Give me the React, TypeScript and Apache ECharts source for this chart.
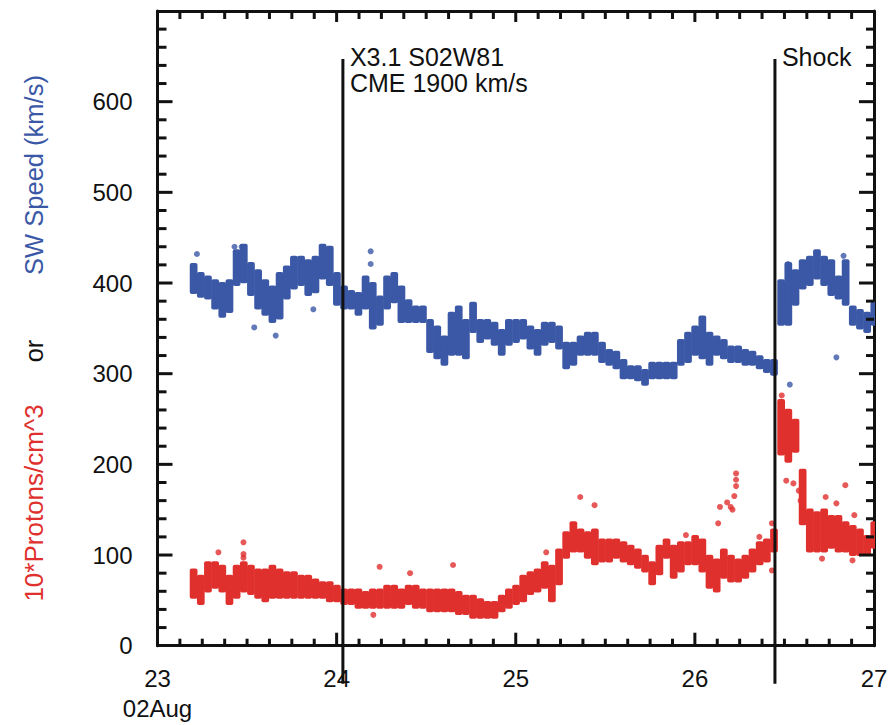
import React, { useEffect, useRef } from "react";
import * as echarts from "echarts";

// Sampling grid of the plotted time series (day of August 2002)
const DAY_START = 23.2;
const DAY_STEP = 0.04;

// Solar-wind speed (km/s): lower / upper edge of the scatter cloud at each sample
const speedLo = [
  390, 386, 384, 373, 364, 369, 399, 402, 388, 373,
  366, 358, 362, 384, 395, 399, 388, 391, 406, 399,
  377, 373, 373, 366, 373, 351, 355, 373, 380, 358,
  358, 358, 358, 325, 318, 311, 322, 322, 318, 347,
  336, 340, 333, 322, 333, 336, 340, 329, 322, 333,
  336, 329, 307, 311, 322, 322, 322, 314, 311, 307,
  296, 296, 294, 289, 296, 296, 296, 296, 311, 314,
  322, 318, 311, 322, 318, 314, 314, 311, 311, 307,
  303, 300, 355, 355, 377, 395, 399, 406, 399, 388,
  384, 377, 355, 351, 347, 355,
];
const speedHi = [
  420, 410, 406, 402, 399, 402, 435, 441, 421, 413,
  402, 395, 410, 417, 428, 428, 424, 428, 441, 439,
  410, 395, 390, 388, 406, 399, 384, 406, 410, 395,
  380, 373, 373, 358, 351, 340, 366, 373, 358, 377,
  358, 358, 355, 347, 358, 358, 358, 351, 347, 355,
  355, 351, 333, 333, 340, 344, 344, 333, 325, 323,
  314, 307, 307, 303, 311, 311, 311, 311, 336, 344,
  351, 362, 344, 340, 336, 329, 329, 325, 323, 318,
  314, 314, 402, 421, 413, 424, 428, 435, 428, 424,
  406, 424, 373, 369, 366, 377,
];

// 10 * proton density (cm^-3): lower / upper edge of the scatter cloud
const densLo = [
  54, 47, 61, 65, 61, 47, 54, 61, 58, 54,
  50, 54, 54, 54, 54, 54, 54, 54, 54, 50,
  50, 47, 47, 43, 43, 43, 43, 43, 43, 43,
  47, 43, 43, 39, 39, 39, 39, 36, 36, 32,
  32, 32, 32, 39, 43, 47, 50, 58, 61, 65,
  50, 69, 98, 105, 105, 98, 91, 94, 94, 98,
  94, 91, 87, 83, 69, 80, 98, 76, 83, 91,
  91, 83, 65, 61, 76, 72, 72, 76, 83, 91,
  94, 105, 212, 204, 215, 135, 105, 105, 105, 109,
  105, 105, 101, 101, 101, 109,
];
const densHi = [
  83, 76, 91, 91, 87, 76, 87, 91, 87, 83,
  83, 87, 83, 80, 80, 76, 76, 72, 69, 69,
  65, 61, 61, 61, 58, 61, 61, 65, 65, 61,
  65, 65, 61, 61, 61, 61, 61, 58, 54, 54,
  50, 47, 47, 54, 61, 65, 76, 80, 83, 91,
  87, 105, 124, 135, 127, 124, 127, 116, 116, 116,
  113, 109, 105, 98, 91, 109, 116, 109, 113, 113,
  120, 116, 98, 94, 105, 98, 94, 98, 105, 113,
  116, 127, 270, 259, 248, 193, 149, 146, 149, 142,
  142, 135, 131, 127, 120, 135,
];

// Isolated points outside the main clouds: [day, value]
const speedOutliers = [
  [23.22, 432], [23.43, 440], [23.47, 440], [23.54, 351], [23.66, 342],
  [23.87, 371], [24.19, 435], [24.19, 421], [26.52, 421], [26.53, 288],
  [26.79, 318], [26.83, 430],
];
const densOutliers = [
  [23.34, 103], [23.48, 114], [23.48, 101], [23.48, 97], [24.24, 87],
  [24.205, 34], [24.41, 80], [24.65, 89], [25.17, 103], [25.36, 164],
  [25.44, 155], [25.95, 122], [26.14, 153], [26.18, 158], [26.2, 153],
  [26.23, 190], [26.23, 183], [26.23, 176], [26.22, 165], [26.21, 150],
  [26.13, 135], [26.36, 120], [26.43, 135], [26.43, 83], [26.485, 276],
  [26.51, 182], [26.55, 179], [26.58, 171], [26.59, 160], [26.84, 177],
  [26.73, 164], [26.79, 157], [26.89, 144], [26.71, 96], [26.88, 94],
];

// Event markers
const eventDays = [24.035, 26.447];
const eventLabels = [["X3.1 S02W81", "CME 1900 km/s"], ["Shock"]];

// Axis ranges and tick spacing
const X_MIN = 23;
const X_MAX = 27;
const X_MAJOR = 1;
const X_MINOR_PER_MAJOR = 8;
const Y_MIN = 0;
const Y_MAX = 700;
const Y_MAJOR = 100;
const Y_MINOR_PER_MAJOR = 5;

const BLUE = "#3a58a6";
const RED = "#e0302e";
const INK = "#111111";
const FONT = "Liberation Sans";

function bandData(lo: number[], hi: number[]) {
  return lo.map((v, i) => [DAY_START + i * DAY_STEP, v, hi[i]]);
}

function bandRenderer(color: string) {
  return (params: any, api: any) => {
    const t = api.value(0);
    const lo = api.value(1);
    const hi = api.value(2);
    const a = api.coord([t - DAY_STEP / 2, hi]);
    const b = api.coord([t + DAY_STEP / 2, lo]);
    return {
      type: "rect",
      shape: {
        x: a[0],
        y: a[1] - 2,
        width: b[0] - a[0] + 0.6,
        height: b[1] - a[1] + 4,
        r: 2,
      },
      style: { fill: color },
    };
  };
}

// Tick positions along each axis: [value, 1 if major else 0]
function buildTicks(min: number, max: number, major: number, perMajor: number) {
  const out: number[][] = [];
  const n = Math.round(((max - min) / major) * perMajor);
  for (let k = 1; k < n; k++) {
    out.push([min + (k * major) / perMajor, k % perMajor === 0 ? 1 : 0]);
  }
  return out;
}
const xTicks = buildTicks(X_MIN, X_MAX, X_MAJOR, X_MINOR_PER_MAJOR);
const yTicks = buildTicks(Y_MIN, Y_MAX, Y_MAJOR, Y_MINOR_PER_MAJOR);

function tickLines(api: any) {
  const out: any[] = [];
  const p0 = api.coord([X_MIN, Y_MIN]);
  const p1 = api.coord([X_MAX, Y_MAX]);
  for (let i = 0; i < xTicks.length; i++) {
    const v = xTicks[i][0];
    const major = xTicks[i][1] === 1;
    const x = api.coord([v, Y_MIN])[0];
    const lb = major ? 13 : 7;
    const lt = major ? 11 : 8;
    out.push({
      type: "line",
      shape: { x1: x, y1: p0[1], x2: x, y2: p0[1] - lb },
      style: { stroke: INK, lineWidth: 3 },
    });
    out.push({
      type: "line",
      shape: { x1: x, y1: p1[1], x2: x, y2: p1[1] + lt },
      style: { stroke: INK, lineWidth: 3 },
    });
  }
  for (let i = 0; i < yTicks.length; i++) {
    const v = yTicks[i][0];
    const major = yTicks[i][1] === 1;
    const y = api.coord([X_MIN, v])[1];
    const ll = major ? 15 : 9;
    const lr = major ? 15 : 8;
    out.push({
      type: "line",
      shape: { x1: p0[0], y1: y, x2: p0[0] + ll, y2: y },
      style: { stroke: INK, lineWidth: 3 },
    });
    out.push({
      type: "line",
      shape: { x1: p1[0], y1: y, x2: p1[0] - lr, y2: y },
      style: { stroke: INK, lineWidth: 3 },
    });
  }
  return out;
}

const titleGraphics = [
  {
    type: "text",
    x: 34,
    y: 175,
    rotation: Math.PI / 2,
    style: {
      text: "SW Speed (km/s)",
      fontSize: 25.5,
      fontFamily: FONT,
      fill: BLUE,
      align: "center",
      verticalAlign: "middle",
    },
  },
  {
    type: "text",
    x: 34,
    y: 351,
    rotation: Math.PI / 2,
    style: {
      text: "or",
      fontSize: 25.5,
      fontFamily: FONT,
      fill: INK,
      align: "center",
      verticalAlign: "middle",
    },
  },
  {
    type: "text",
    x: 34,
    y: 503,
    rotation: Math.PI / 2,
    style: {
      text: "10*Protons/cm^3",
      fontSize: 26,
      fontFamily: FONT,
      fill: RED,
      align: "center",
      verticalAlign: "middle",
    },
  },
];

export default function App() {
  const ref = useRef<HTMLDivElement>(null);

  useEffect(() => {
    document.body.style.margin = "0";
    if (!ref.current) return;
    const chart = echarts.init(ref.current, null, { renderer: "svg" });

    const axisLine = { show: true, onZero: false, lineStyle: { color: INK, width: 3 } };
    const noTicks = {
      axisTick: { show: false },
      minorTick: { show: false },
      splitLine: { show: false },
    };

    const option: any = {
      animation: false,
      backgroundColor: "#ffffff",
      grid: { left: 157.5, top: 11, right: 21, bottom: 79.3, containLabel: false },
      xAxis: [
        {
          type: "value",
          min: X_MIN,
          max: X_MAX,
          interval: X_MAJOR,
          axisLine,
          ...noTicks,
          axisLabel: {
            margin: 18,
            fontSize: 24,
            fontFamily: FONT,
            color: INK,
            lineHeight: 30,
            formatter: (v: number) => (v === X_MIN ? `${v}\n02Aug` : `${v}`),
          },
        },
        {
          type: "value",
          position: "top",
          min: X_MIN,
          max: X_MAX,
          interval: X_MAJOR,
          axisLine,
          ...noTicks,
          axisLabel: { show: false },
        },
      ],
      yAxis: [
        {
          type: "value",
          min: Y_MIN,
          max: Y_MAX,
          interval: Y_MAJOR,
          axisLine,
          ...noTicks,
          axisLabel: {
            margin: 25,
            fontSize: 24,
            fontFamily: FONT,
            color: INK,
            formatter: (v: number) => (v >= Y_MAX ? "" : `${v}`),
          },
        },
        {
          type: "value",
          position: "right",
          min: Y_MIN,
          max: Y_MAX,
          interval: Y_MAJOR,
          axisLine,
          ...noTicks,
          axisLabel: { show: false },
        },
      ],
      graphic: titleGraphics,
      series: [
        {
          type: "custom",
          name: "SW Speed",
          clip: true,
          renderItem: bandRenderer(BLUE),
          encode: { x: 0, y: [1, 2] },
          data: bandData(speedLo, speedHi),
          z: 2,
        },
        {
          type: "scatter",
          name: "SW Speed outliers",
          symbol: "circle",
          symbolSize: 6,
          itemStyle: { color: BLUE },
          data: speedOutliers,
          z: 2,
        },
        {
          type: "custom",
          name: "Density",
          clip: true,
          renderItem: bandRenderer(RED),
          encode: { x: 0, y: [1, 2] },
          data: bandData(densLo, densHi),
          z: 3,
        },
        {
          type: "scatter",
          name: "Density outliers",
          symbol: "circle",
          symbolSize: 6,
          itemStyle: { color: RED },
          data: densOutliers,
          z: 3,
        },
        {
          type: "custom",
          name: "Events",
          clip: false,
          encode: { x: 0, y: 1 },
          data: eventDays.map((d) => [d, 0]),
          renderItem: (params: any, api: any) => {
            const t = api.value(0);
            const top = api.coord([t, 647]);
            const bot = api.coord([t, -42]);
            const children: any[] = [
              {
                type: "line",
                shape: { x1: top[0], y1: top[1], x2: bot[0], y2: bot[1] },
                style: { stroke: INK, lineWidth: 3 },
              },
            ];
            const lines = eventLabels[params.dataIndex];
            for (let k = 0; k < lines.length; k++) {
              children.push({
                type: "text",
                x: top[0] + 7,
                y: top[1] - 1.6 + k * 25.5,
                style: {
                  text: lines[k],
                  fontSize: 25,
                  lineHeight: 25,
                  fontFamily: FONT,
                  fill: INK,
                  verticalAlign: "middle",
                  align: "left",
                },
              });
            }
            if (params.dataIndex === 0) {
              const ticks = tickLines(api);
              for (let k = 0; k < ticks.length; k++) children.push(ticks[k]);
            }
            return { type: "group", children };
          },
          z: 5,
        },
      ],
    };

    chart.setOption(option);

    return () => {
      chart.dispose();
    };
  }, []);

  return <div ref={ref} style={{ width: 895, height: 725 }} />;
}
